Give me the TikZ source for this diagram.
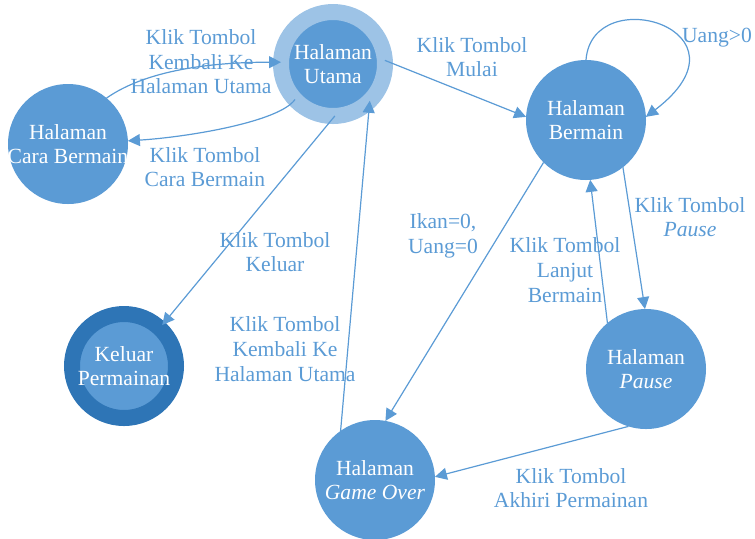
\documentclass[tikz,border=0pt]{standalone}
\usepackage{fontspec}
\setmainfont{Liberation Serif}
\usetikzlibrary{arrows.meta}
\definecolor{stateblue}{HTML}{5B9BD5}
\definecolor{lightblue}{HTML}{9DC3E6}
\definecolor{darkblue}{HTML}{2E75B6}
\tikzset{
  state/.style={circle, fill=stateblue, text=white, align=center, inner sep=0pt,
    outer sep=0pt, minimum size=60pt, font=\fontsize{10.8}{12.3}\selectfont},
  ringstate/.style={state, minimum size=52pt, line width=8pt},
  lbl/.style={text=stateblue, align=center, font=\fontsize{10.8}{12.3}\selectfont},
  arr/.style={draw=stateblue, line width=0.6pt, -{Triangle[length=6pt,width=6pt]}},
}

\begin{document}
\begin{tikzpicture}[x=0.5pt,y=-0.5pt]
\clip (0,0) rectangle (755,538);

% states
\node[state] (cara) at (68,144) {Halaman\\\makebox[0pt]{Cara Bermain}};
\node[ringstate, draw=lightblue] (utama) at (333,64) {Halaman\\Utama};
\node[state] (bermain) at (586,120) {Halaman\\Bermain};
\node[ringstate, draw=darkblue, outer sep=2pt] (keluar) at (124,366) {Keluar\\Permainan};
\node[state] (pause) at (646,369) {Halaman\\\textit{Pause}};
\node[state] (gameover) at (375,480) {Halaman\\\textit{Game Over}};

% transitions
\foreach \i/\j in {utama.4/bermain.177, utama.-88/keluar.47, gameover.125/utama.-45, bermain.225/gameover.80, bermain.-52/pause.91, pause.130/bermain.-86, pause.253/gameover.3}
\draw[arr] (\i) -- (\j);

\draw[arr] (cara.50) .. controls +(40,-28) and +(-70,0) .. (utama.178);
\draw[arr] (utama.223) .. controls +(-15,22) and +(62,-4) .. (cara.3);
\draw[arr] (bermain.90) .. controls +(6,-80) and +(114,-87) .. (bermain.3);

% labels
\node[lbl] (kembalia) at (201,62) {Klik Tombol\\Kembali Ke\\Halaman Utama};
\node[lbl] (carabtn) at (205,167) {Klik Tombol\\Cara Bermain};
\node[lbl] (mulai) at (472,57) {Klik Tombol\\Mulai};
\node[lbl] (uang) at (717,38) {Uang>0};
\node[lbl] (keluarbtn) at (275,252) {Klik Tombol\\Keluar};
\node[lbl] (kembalib) at (285,349) {Klik Tombol\\Kembali Ke\\Halaman Utama};
\node[lbl] (habis) at (443,236) {Ikan=0,\\Uang=0};
\node[lbl] (pausebtn) at (690,217) {Klik Tombol\\\textit{Pause}};
\node[lbl] (lanjut) at (565,270) {Klik Tombol\\Lanjut\\Bermain};
\node[lbl] (akhiri) at (571,488) {Klik Tombol\\Akhiri Permainan};

\end{tikzpicture}
\end{document}
